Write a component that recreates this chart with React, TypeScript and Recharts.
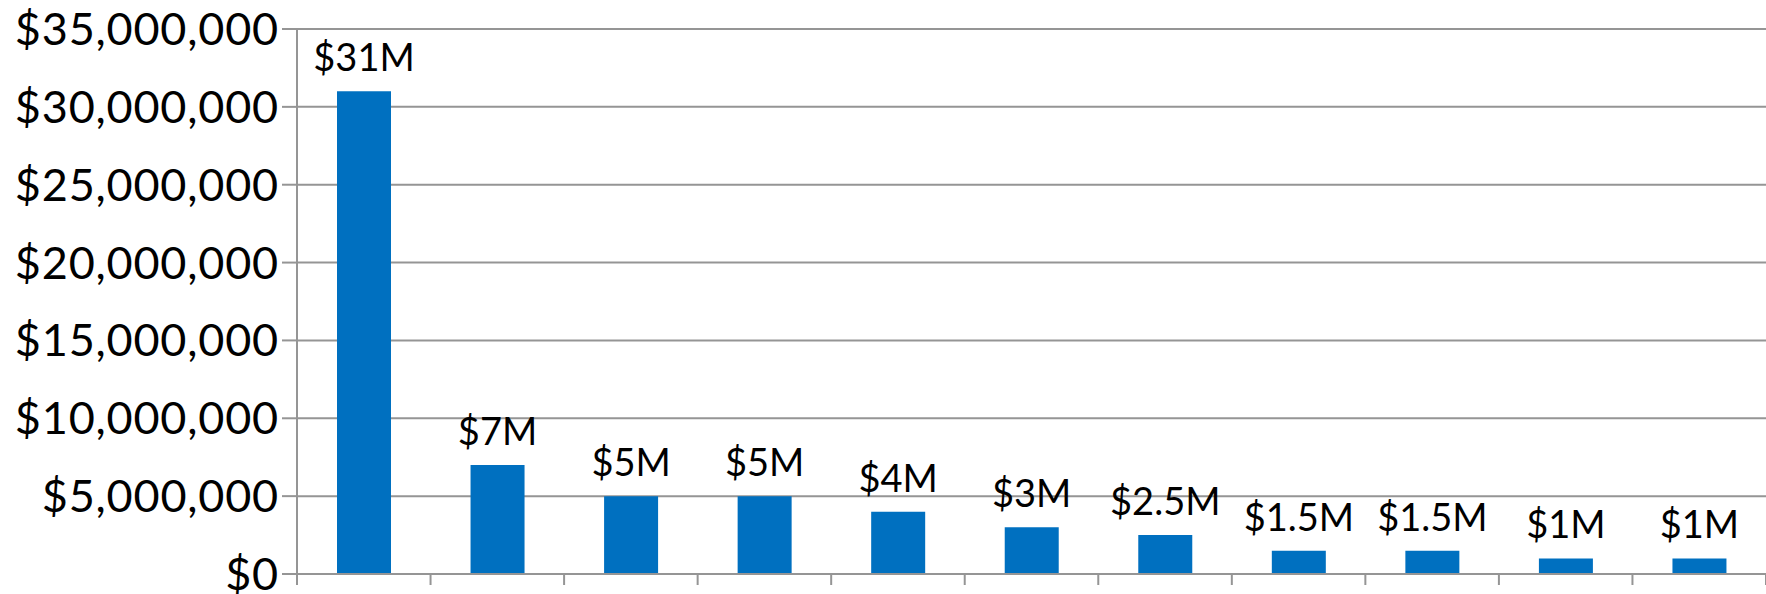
import { BarChart, Bar, XAxis, YAxis, CartesianGrid, LabelList } from "recharts"

const categories = ["A", "B", "C", "D", "E", "F", "G", "H", "I", "J", "K"]
const amounts = [31000000, 7000000, 5000000, 5000000, 4000000, 3000000, 2500000, 1500000, 1500000, 1000000, 1000000]
const yTicks = [0, 5000000, 10000000, 15000000, 20000000, 25000000, 30000000, 35000000]

const data = categories.map((c, i) => ({ name: c, amount: amounts[i] }))

const W = 1766
const H = 594
const AXIS_W = 297
const BAND = (W - AXIS_W) / categories.length
const GRID = "#959595"
const FONT = "Lato, 'Open Sans', sans-serif"

function CategoryTick(props: any) {
  const { x, y, index } = props
  const left = x - BAND / 2
  return (
    <g>
      <line x1={left} y1={y} x2={left} y2={y + 11} stroke={GRID} strokeWidth={2} />
      {index === categories.length - 1 && (
        <line x1={x + BAND / 2} y1={y} x2={x + BAND / 2} y2={y + 11} stroke={GRID} strokeWidth={2} />
      )}
    </g>
  )
}

export default function App() {
  return (
    <div style={{ position: "absolute", left: 0, top: 0, width: W, height: H, background: "#fff", fontFamily: FONT }}>
      <BarChart width={W} height={H} data={data} margin={{ top: 29, right: 0, bottom: 0, left: 0 }} barSize={54}>
        <CartesianGrid vertical={false} stroke={GRID} strokeWidth={2} />
        <XAxis
          dataKey="name"
          height={20}
          interval={0}
          tickLine={false}
          tickSize={0}
          tickMargin={0}
          axisLine={{ stroke: GRID, strokeWidth: 2 }}
          tick={<CategoryTick />}
        />
        <YAxis
          width={AXIS_W}
          domain={[0, 35000000]}
          ticks={yTicks}
          interval={0}
          tickSize={15}
          tickMargin={3}
          tickLine={{ stroke: GRID, strokeWidth: 2 }}
          axisLine={{ stroke: GRID, strokeWidth: 2 }}
          tick={{ fill: "#000", fontSize: 45, fontFamily: FONT, letterSpacing: 0.8 }}
          tickFormatter={(v: number) => "$" + v.toLocaleString("en-US")}
        />
        <Bar dataKey="amount" fill="#0070C0" isAnimationActive={false}>
          <LabelList
            dataKey="amount"
            position="top"
            offset={20}
            fill="#000"
            fontSize={38}
            fontFamily={FONT}
            formatter={(v: any) => "$" + Number(v) / 1000000 + "M"}
          />
        </Bar>
      </BarChart>
    </div>
  )
}
